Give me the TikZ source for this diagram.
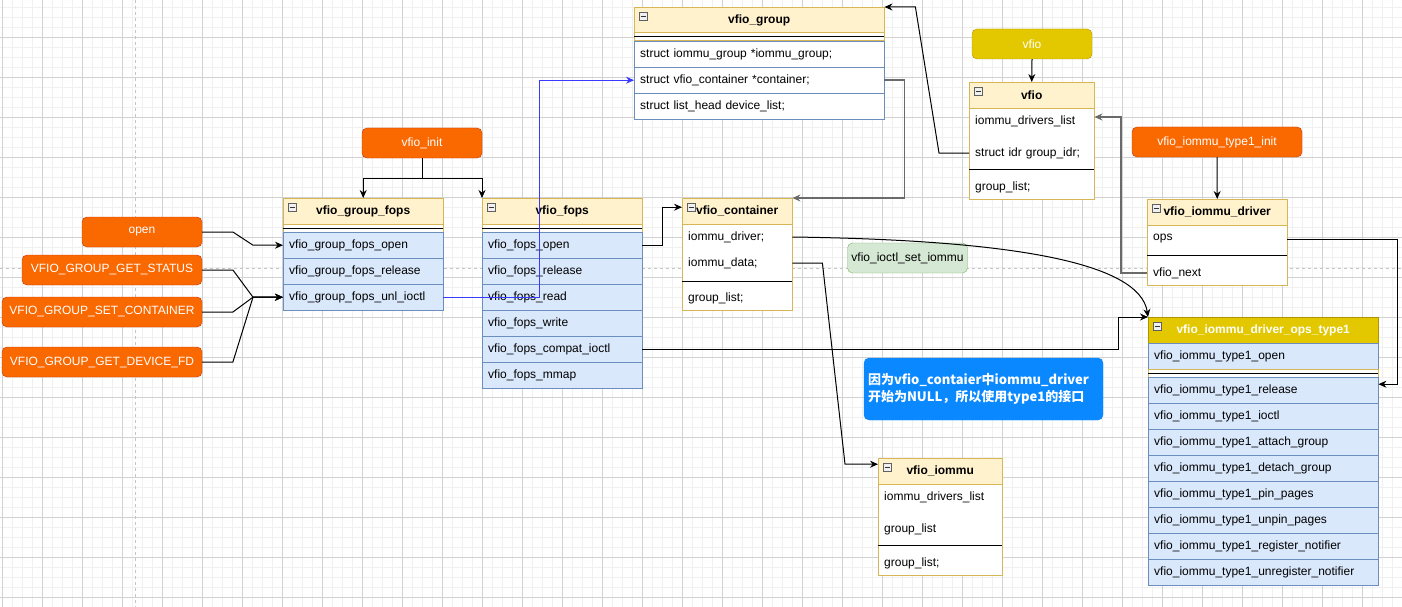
\documentclass[tikz,border=0pt]{standalone}
\usepackage{fontspec}
\setmainfont{Liberation Sans}
\newfontfamily\cjkfont{Noto Sans CJK SC}
\usetikzlibrary{arrows.meta,calc}

\definecolor{hdrfill}{HTML}{FFF2CC}
\definecolor{hdrline}{HTML}{D6B656}
\definecolor{rowfill}{HTML}{DAE8FC}
\definecolor{rowline}{HTML}{6C8EBF}
\definecolor{callfill}{HTML}{FA6800}
\definecolor{callline}{HTML}{C73500}
\definecolor{goldfill}{HTML}{E3C800}
\definecolor{goldline}{HTML}{B09500}
\definecolor{greenfill}{HTML}{D5E8D4}
\definecolor{greenline}{HTML}{82B366}
\definecolor{hintfill}{HTML}{0A88FF}
\definecolor{gridlight}{HTML}{F0F0F0}
\definecolor{griddark}{HTML}{D2D2D2}
\definecolor{breakgray}{HTML}{C4C4C4}
\definecolor{linkgray}{HTML}{6A6A6A}
\definecolor{linkblue}{HTML}{3A3AFF}

\tikzset{
  >={Stealth[length=8pt,width=7pt]},
  every node/.style={font=\fontsize{12}{14}\selectfont},
  classhead/.style={
    draw=hdrline, fill=hdrfill,
    font=\fontsize{12}{14}\selectfont\bfseries,
    minimum width=#1, minimum height=26pt,
    inner sep=0pt, anchor=north west},
  classrow/.style={
    draw=rowline, fill=rowfill,
    text width=#1, align=left,
    minimum height=26pt, inner xsep=6pt, inner ysep=0pt,
    anchor=north west},
  classfield/.style={
    text width=#1, align=left,
    minimum height=26pt, inner xsep=6pt, inner ysep=0pt,
    anchor=west},
  classbody/.style={draw=hdrline, fill=white, line width=1pt},
  gapbar/.style={draw=hdrline, fill=white, line width=1pt},
  sepline/.style={draw=black, line width=1pt},
  callbox/.style={
    draw=callline, fill=callfill, text=white,
    rounded corners=5pt, minimum width=#1, minimum height=30pt,
    inner sep=0pt},
  goldbox/.style={
    draw=goldline, fill=goldfill, text=white,
    rounded corners=5pt, minimum width=#1, minimum height=30pt,
    inner sep=0pt},
  greenbox/.style={
    draw=greenline, fill=greenfill,
    rounded corners=5pt, minimum width=#1, minimum height=30pt,
    inner sep=0pt},
  hintbox/.style={
    draw=hintfill, fill=hintfill, text=white,
    font=\cjkfont\bfseries\fontsize{13}{17}\selectfont,
    rounded corners=5pt, text width=231pt, align=left,
    minimum height=62pt, inner xsep=4pt},
  icon/.style={draw=gray!75!black, fill=gray!12, line width=0.7pt},
  iconbar/.style={draw=black!80, line width=0.9pt},
  gridminor/.style={draw=gridlight, line width=1pt},
  gridmajor/.style={draw=griddark, line width=1pt},
  pagebreak/.style={draw=breakgray, line width=1pt, dash pattern=on 3pt off 3pt},
  conn/.style={draw=black, line width=1pt, ->},
  grayconn/.style={draw=linkgray, line width=1.4pt, ->},
  blueconn/.style={draw=linkblue, line width=0.8pt, ->},
}

\begin{document}
\begin{tikzpicture}[x=1pt, y=-1pt]
    \useasboundingbox (0,0) rectangle (1402,607);

    %grid
    \foreach \k in {0,...,140} \draw[gridminor] (2.7+10*\k,0) -- (2.7+10*\k,607);
    \foreach \k in {0,...,60} \draw[gridminor] (0,7.3+10*\k) -- (1402,7.3+10*\k);
    \foreach \k in {0,...,35} \draw[gridmajor] (2.7+40*\k,0) -- (2.7+40*\k,607);
    \foreach \k in {0,...,14} \draw[gridmajor] (0,37.3+40*\k) -- (1402,37.3+40*\k);
    \draw[pagebreak] (135.5,0) -- (135.5,607);
    \draw[pagebreak] (0,268) -- (1402,268);

    %vfio_group_fops
    \node[classhead=160pt] (gfhd) at (283,198) {vfio\_group\_fops};
    \draw[gapbar] (283,224) rectangle (443,232);
    \draw[sepline] (283,228) -- (443,228);
    \node[classrow=148pt] (gfopen) at (283,232) {vfio\_group\_fops\_open};
    \node[classrow=148pt] (gfrel) at (283,258) {vfio\_group\_fops\_release};
    \node[classrow=148pt] (gfioctl) at (283,284) {vfio\_group\_fops\_unl\_ioctl};

    %vfio_fops
    \node[classhead=160pt] (fopshd) at (482,198) {vfio\_fops};
    \draw[gapbar] (482,224) rectangle (642,232);
    \draw[sepline] (482,228) -- (642,228);
    \node[classrow=148pt] (fopsopen) at (482,232) {vfio\_fops\_open};
    \node[classrow=148pt] (fopsrel) at (482,258) {vfio\_fops\_release};
    \node[classrow=148pt] (fopsread) at (482,284) {vfio\_fops\_read};
    \node[classrow=148pt] (fopswrite) at (482,310) {vfio\_fops\_write};
    \node[classrow=148pt] (fopscompat) at (482,336) {vfio\_fops\_compat\_ioctl};
    \node[classrow=148pt] (fopsmmap) at (482,362) {vfio\_fops\_mmap};

    %vfio_group
    \node[classhead=250pt] (grphd) at (634,7) {vfio\_group};
    \draw[gapbar] (634,33) rectangle (884,41);
    \draw[sepline] (634,37) -- (884,37);
    \node[classrow=238pt, fill=white] (grpiommu) at (634,41) {struct iommu\_group *iommu\_group;};
    \node[classrow=238pt, fill=white] (grpcont) at (634,67) {struct vfio\_container *container;};
    \node[classrow=238pt, fill=white] (grplist) at (634,93) {struct list\_head device\_list;};

    %vfio_container
    \draw[classbody] (682,224) rectangle (792,310);
    \node[classhead=110pt] (conthd) at (682,198) {vfio\_container};
    \node[classfield=98pt] (contdrv) at (682,237) {iommu\_driver;};
    \node[classfield=98pt] (contdata) at (682,263) {iommu\_data;};
    \draw[sepline] (682,281) -- (792,281);
    \node[classfield=98pt] (contlist) at (682,298) {group\_list;};

    %vfio
    \draw[classbody] (969,108) rectangle (1094,199);
    \node[classhead=125pt] (vsthd) at (969,82) {vfio};
    \node[classfield=113pt] (vstlist) at (969,121) {iommu\_drivers\_list};
    \node[classfield=113pt] (vstidr) at (969,153) {struct idr group\_idr;};
    \draw[sepline] (969,169) -- (1094,169);
    \node[classfield=113pt] (vstgroup) at (969,187) {group\_list;};

    %vfio_iommu_driver
    \draw[classbody] (1147,225) rectangle (1287,285);
    \node[classhead=140pt] (drvhd) at (1147,199) {vfio\_iommu\_driver};
    \node[classfield=128pt] (drvops) at (1147,239) {ops};
    \draw[sepline] (1147,255) -- (1287,255);
    \node[classfield=128pt] (drvnext) at (1147,273) {vfio\_next};

    %vfio_iommu
    \draw[classbody] (878,484) rectangle (1002,575);
    \node[classhead=124pt] (iomhd) at (878,458) {vfio\_iommu};
    \node[classfield=112pt] (iomlist) at (878,497) {iommu\_drivers\_list};
    \node[classfield=112pt] (iomgroup) at (878,529) {group\_list};
    \draw[sepline] (878,545) -- (1002,545);
    \node[classfield=112pt] (iomglist) at (878,563) {group\_list;};

    %vfio_iommu_driver_ops_type1
    \node[classhead=230pt, draw=goldline, fill=goldfill, text=white] (opshd) at (1148,317) {vfio\_iommu\_driver\_ops\_type1};
    \node[classrow=218pt] (opsopen) at (1148,343) {vfio\_iommu\_type1\_open};
    \draw[gapbar] (1148,369) rectangle (1378,377);
    \draw[sepline] (1148,373) -- (1378,373);
    \foreach \nm/\txt [count=\k from 0] in {rel/release, ioctl/ioctl,
        attach/attach\_group, detach/detach\_group, pin/pin\_pages,
        unpin/unpin\_pages, reg/register\_notifier, unreg/unregister\_notifier}
        \node[classrow=218pt] (ops\nm) at (1148,377+26*\k) {vfio\_iommu\_type1\_\txt};

    %collapse icons
    \foreach \ix/\iy in {283/198, 482/198, 634/7, 682/198, 969/82, 1147/199, 878/458, 1148/317}
    {
        \draw[icon] (\ix+5,\iy+5) rectangle ++(8,8);
        \draw[iconbar] (\ix+6.5,\iy+9) -- ++(5,0);
    }

    %callers
    \node[callbox=120pt] (init) at (422,143) {vfio\_init};
    \node[callbox=120pt] (open) at (142,232) {open};
    \node[callbox=180pt] (getstatus) at (112,270) {VFIO\_GROUP\_GET\_STATUS};
    \node[callbox=200pt] (setcont) at (102,312) {VFIO\_GROUP\_SET\_CONTAINER};
    \node[callbox=200pt] (getdev) at (102,362) {VFIO\_GROUP\_GET\_DEVICE\_FD};
    \node[callbox=170pt] (typeinit) at (1217,142) {vfio\_iommu\_type1\_init};
    \node[goldbox=120pt] (vfio) at (1032,44) {vfio};
    \node[greenbox=120pt] (setiommu) at (907.5,258) {vfio\_ioctl\_set\_iommu};
    \node[hintbox] (hint) at (983.5,389) {因为vfio\_contaier中iommu\_driver\\开始为NULL，所以使用type1的接口};

    %links
    \draw[conn] (init.south) -- ++(0,20.3) -| (gfhd.north);
    \draw[conn] (init.south) -- ++(0,20.3) -| (fopshd.north west);
    \draw[conn] (open.east) -- ++(30.7,0) -- ([xshift=-30pt]gfopen.west) -- (gfopen.west);
    \draw[conn] (getstatus.east) -- ++(30.7,0) -- ([xshift=-30pt]gfioctl.west) -- (gfioctl.west);
    \draw[conn] (setcont.east) -- ++(30.7,0) -- ([xshift=-30pt]gfioctl.west) -- (gfioctl.west);
    \draw[conn] (getdev.east) -- ++(30.7,0) -- ([xshift=-30pt]gfioctl.west) -- (gfioctl.west);
    \draw[blueconn] (gfioctl.east) -- ++(95.6,0) |- (grpcont.west);
    \draw[conn] (fopsopen.east) -- ++(20,0) |- ([yshift=4pt]conthd.west);
    \draw[grayconn] (grpcont.east) -- ++(20,0) |- (conthd.north east);
    \draw[conn] (contdata.east) -- ++(30,0) -- ([xshift=-33pt,yshift=7pt]iomhd.west) -- ([yshift=7pt]iomhd.west);
    \draw[conn] (contdrv.east) .. controls (1010,240) and (1140,262) .. (opshd.north west);
    \draw[conn] (fopscompat.east) -- ++(475.6,0) |- (opshd.north west);
    \draw[conn] (vfio.south) -- (vsthd.north);
    \draw[conn] (vstidr.west) -- ++(-30,0) -- ([xshift=31pt]grphd.north east) -- (grphd.north east);
    \draw[conn] (typeinit.south) -- (drvhd.north);
    \draw[grayconn] (drvnext.west) -- ++(-26,0) |- ([yshift=4pt]vstlist.east);
    \draw[conn] (drvops.east) -- ++(110,0) |- ([yshift=6pt]opsrel.east);

\end{tikzpicture}
\end{document}
